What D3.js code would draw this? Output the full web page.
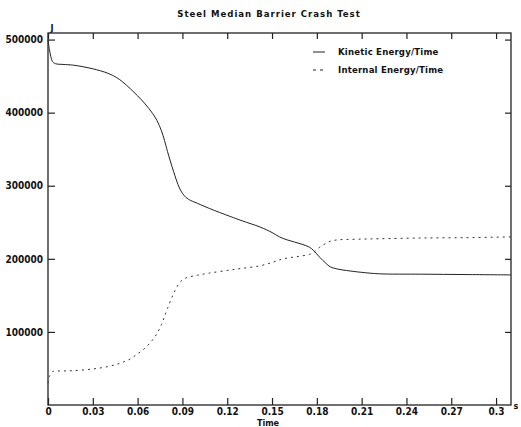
<!DOCTYPE html>
<html>
<head>
<meta charset="utf-8">
<script src="https://cdn.jsdelivr.net/npm/d3@7"></script>
<style>
  body { margin: 0; background: #fff; }
  svg { display: block; }
  text { font-family: "DejaVu Sans Condensed", "Liberation Sans Narrow", sans-serif; font-weight: bold; fill: #111; }
</style>
</head>
<body>
<svg id="chart" width="521" height="427"></svg>
<script>
const time = [0, 0.001, 0.003, 0.005, 0.01, 0.017, 0.03, 0.04, 0.046, 0.05, 0.055, 0.06, 0.065, 0.07, 0.073, 0.076, 0.078, 0.08, 0.084, 0.088, 0.091, 0.094, 0.1, 0.108, 0.122, 0.13, 0.142, 0.15, 0.155, 0.16, 0.165, 0.17, 0.175, 0.178, 0.182, 0.186, 0.189, 0.194, 0.2, 0.21, 0.222, 0.25, 0.28, 0.31]
const kinetic = [500000, 486000, 470000, 467000, 466000, 465000, 460000, 454000, 448000, 442000, 433000, 423000, 412000, 399000, 389000, 375000, 362000, 347000, 320000, 297000, 287000, 281500, 276000, 269000, 258000, 252000, 243500, 236000, 230000, 226000, 223000, 220000, 216000, 211000, 202000, 194000, 189000, 186000, 184000, 181500, 179500, 179000, 178500, 178000]
const internal = [30000, 39000, 45600, 46300, 46600, 47000, 49300, 52500, 55700, 58500, 63000, 70000, 78000, 89000, 98000, 110000, 121000, 132000, 152000, 167000, 172500, 175000, 177500, 180500, 184700, 187000, 190500, 195000, 198500, 201000, 202500, 204000, 206000, 209000, 216000, 221000, 224000, 226000, 226500, 227000, 227500, 228500, 229000, 230000]
const xTicks = [0, 0.03, 0.06, 0.09, 0.12, 0.15, 0.18, 0.21, 0.24, 0.27, 0.3]
const yTicks = [100000, 200000, 300000, 400000, 500000]
const seriesNames = ['Kinetic Energy/Time', 'Internal Energy/Time']

const margin = {top: 33, right: 10, bottom: 22, left: 48},
  width = 521 - margin.left - margin.right,
  height = 427 - margin.top - margin.bottom

const svg = d3.select('#chart')
const g = svg.append('g').attr('transform', `translate(${margin.left},${margin.top})`)

const x = d3.scaleLinear().domain([0, 0.31]).range([0, width])
const y = d3.scaleLinear().domain([0, 509000]).range([height, 0])

// frame
g.append('rect').attr('width', width).attr('height', height)
  .attr('fill', 'none').attr('stroke', '#222').attr('stroke-width', 1.3)

// bottom axis, ticks point inward
const xAxis = g.append('g').attr('transform', `translate(0,${height})`)
  .call(d3.axisBottom(x).tickValues(xTicks).tickSizeInner(-7).tickSizeOuter(0).tickPadding(3)
    .tickFormat(d => d === 0 ? '0' : d3.format('.2f')(d).replace(/0$/, '')))
xAxis.select('.domain').remove()
xAxis.selectAll('text').style('font-size', '10px')

// top ticks
g.append('g')
  .call(d3.axisTop(x).tickValues(xTicks).tickSizeInner(-6).tickSizeOuter(0).tickFormat(''))
  .call(a => a.select('.domain').remove())

// left axis
const yAxis = g.append('g')
  .call(d3.axisLeft(y).tickValues(yTicks).tickSizeInner(-7).tickSizeOuter(0).tickPadding(5).tickFormat(d3.format('d')))
yAxis.select('.domain').remove()
yAxis.selectAll('text').style('font-size', '10px')

// right ticks
g.append('g').attr('transform', `translate(${width},0)`)
  .call(d3.axisRight(y).tickValues(yTicks).tickSizeInner(-6).tickSizeOuter(0).tickFormat(''))
  .call(a => a.select('.domain').remove())

svg.selectAll('.tick line').attr('stroke', '#222').attr('stroke-width', 1.2)

const line = vals => d3.line().x((d, i) => x(time[i])).y(d => y(d)).curve(d3.curveCatmullRom.alpha(0.5))(vals)

g.append('path').attr('d', line(kinetic))
  .attr('fill', 'none').attr('stroke', '#222').attr('stroke-width', 1)
g.append('path').attr('d', line(internal))
  .attr('fill', 'none').attr('stroke', '#333').attr('stroke-width', 1).attr('stroke-dasharray', '2,4')

// legend
const legend = g.append('g').attr('transform', `translate(${width - 198},19)`)
seriesNames.forEach((name, i) => {
  legend.append('line').attr('x1', 0).attr('x2', 12).attr('y1', i * 18).attr('y2', i * 18)
    .attr('stroke', '#222').attr('stroke-width', 1).attr('stroke-dasharray', i ? '3,4' : null)
  legend.append('text').attr('x', 25).attr('y', i * 18).attr('dy', '0.35em')
    .style('font-size', '9.5px').style('letter-spacing', '0.2px').text(name)
})

// titles and units
svg.append('text').attr('x', 269).attr('y', 17).attr('text-anchor', 'middle')
  .style('font-size', '9.5px').style('letter-spacing', '1px').text('Steel Median Barrier Crash Test')
svg.append('text').attr('x', margin.left + 4).attr('y', 31).attr('text-anchor', 'middle')
  .style('font-size', '9px').text('J')
svg.append('text').attr('x', 516).attr('y', margin.top + height + 4).attr('text-anchor', 'middle')
  .style('font-size', '9px').text('s')
svg.append('text').attr('x', 268).attr('y', 426).attr('text-anchor', 'middle')
  .style('font-size', '9px').text('Time')
</script>
</body>
</html>
